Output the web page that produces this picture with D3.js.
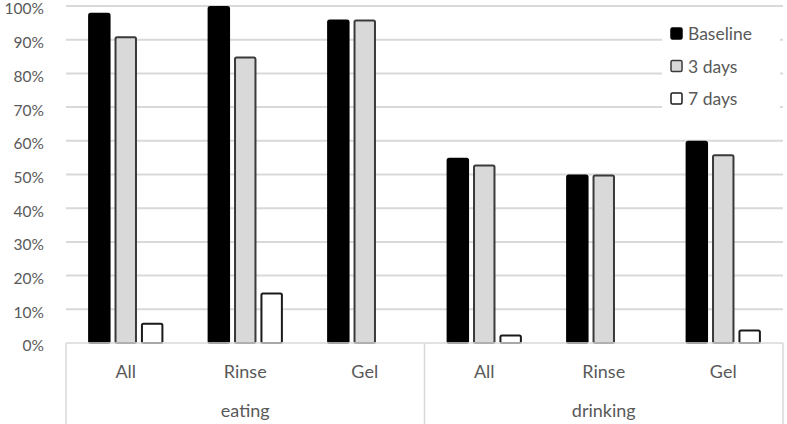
<!DOCTYPE html>
<html>
<head>
<meta charset="utf-8">
<script src="https://cdn.jsdelivr.net/npm/d3@7"></script>
<style>
  body { margin: 0; background: #fff; }
  text { font-family: Lato, "Open Sans", sans-serif; fill: #595959; }
</style>
</head>
<body>
<div id="app"></div>
<script>
// categories: second level (group) and first level (treatment)
let groups = ['eating', 'drinking'];
let treatments = ['All', 'Rinse', 'Gel'];
let seriesNames = ['Baseline', '3 days', '7 days'];

// values in percent, per group then treatment
let baseline = [98, 100, 96, 55, 50, 60];
let days3    = [91, 85, 96, 53, 50, 56];
let days7    = [6, 15, 0, 2.5, 0, 4];

let yTicks = [0, 10, 20, 30, 40, 50, 60, 70, 80, 90, 100];

let svgWidth = 787, svgHeight = 424;
let margin = {top: 6, right: 4, bottom: 81, left: 66};
let width = svgWidth - margin.left - margin.right,
    height = svgHeight - margin.top - margin.bottom;

let svg = d3.select('#app').append('svg')
    .attr('width', svgWidth)
    .attr('height', svgHeight);

let g = svg.append('g')
    .attr('transform', `translate(${margin.left},${margin.top})`);

// one band per (group, treatment)
let cats = [];
groups.forEach(gr => treatments.forEach(t => cats.push({group: gr, label: t})));

let x = d3.scaleBand()
    .domain(d3.range(cats.length))
    .range([0, width]);

let cell = x.bandwidth();
let xs = d3.scaleBand()
    .domain(seriesNames)
    .range([cell * 0.185, cell * 0.815])
    .paddingInner(0.15);

let y = d3.scaleLinear().domain([0, 100]).range([height, 0]);

        //gridlines
g.append('g')
    .selectAll('line')
    .data(yTicks.filter(d => d > 0))
    .enter().append('line')
        .attr('x1', 0)
        .attr('x2', width)
        .attr('y1', d => y(d))
        .attr('y2', d => y(d))
        .attr('stroke', '#d9d9d9')
        .attr('stroke-width', 2);

        //y labels
g.append('g')
    .selectAll('text')
    .data(yTicks)
    .enter().append('text')
        .attr('x', -22)
        .attr('y', d => y(d) + 3)
        .attr('dy', '0.35em')
        .attr('text-anchor', 'end')
        .style('font-size', '15.5px')
        .text(d => d + '%');

let styles = {
    'Baseline': {fill: '#000', stroke: '#000'},
    '3 days': {fill: '#d9d9d9', stroke: '#3a3a3a'},
    '7 days': {fill: '#fff', stroke: '#1a1a1a'}
};
let seriesData = [baseline, days3, days7];

        //bars
seriesNames.forEach((name, si) => {
    g.append('g')
        .selectAll('rect')
        .data(seriesData[si].map((v, i) => ({i: i, v: v})).filter(d => d.v > 0))
        .enter().append('rect')
            .attr('x', d => x(d.i) + xs(name) + 1)
            .attr('width', xs.bandwidth() - 2)
            .attr('y', d => y(d.v) + 1)
            .attr('height', d => height - y(d.v) - 1)
            .attr('rx', 1.5)
            .attr('fill', styles[name].fill)
            .attr('stroke', styles[name].stroke)
            .attr('stroke-width', 2);
});

        //category axis
let axis = g.append('g').attr('transform', `translate(0,${height})`);
axis.append('line')
    .attr('x1', 0).attr('x2', width)
    .attr('stroke', '#d9d9d9').attr('stroke-width', 1.5);

let dividers = [0, treatments.length, cats.length];
axis.selectAll('line.div')
    .data(dividers)
    .enter().append('line')
        .attr('class', 'div')
        .attr('x1', d => d === cats.length ? width : x(d))
        .attr('x2', d => d === cats.length ? width : x(d))
        .attr('y1', 0)
        .attr('y2', margin.bottom)
        .attr('stroke', '#d9d9d9')
        .attr('stroke-width', 1.5);

axis.selectAll('text.cat')
    .data(cats)
    .enter().append('text')
        .attr('class', 'cat')
        .attr('x', (d, i) => x(i) + cell / 2)
        .attr('y', 29)
        .attr('dy', '0.35em')
        .attr('text-anchor', 'middle')
        .style('font-size', '18px')
        .text(d => d.label);

axis.selectAll('text.grp')
    .data(groups)
    .enter().append('text')
        .attr('class', 'grp')
        .attr('x', (d, i) => x(i * treatments.length) + cell * treatments.length / 2)
        .attr('y', 68)
        .attr('dy', '0.35em')
        .attr('text-anchor', 'middle')
        .style('font-size', '18px')
        .text(d => d);

        //legend
let legend = svg.append('g');
legend.append('rect')
    .attr('x', 662).attr('y', 14)
    .attr('width', 118).attr('height', 102)
    .attr('fill', '#fff');

let legendY = d3.scalePoint().domain(seriesNames).range([34, 99]);
let items = legend.selectAll('g.item')
    .data(seriesNames)
    .enter().append('g')
        .attr('class', 'item')
        .attr('transform', d => `translate(671,${legendY(d)})`);

items.append('rect')
    .attr('x', 0).attr('y', -6)
    .attr('width', 11).attr('height', 11)
    .attr('rx', 1.5)
    .attr('fill', d => styles[d].fill)
    .attr('stroke', d => styles[d].stroke)
    .attr('stroke-width', 1.5);

items.append('text')
    .attr('x', 17)
    .attr('dy', '0.35em')
    .style('font-size', '17.5px')
    .text(d => d);
</script>
</body>
</html>
